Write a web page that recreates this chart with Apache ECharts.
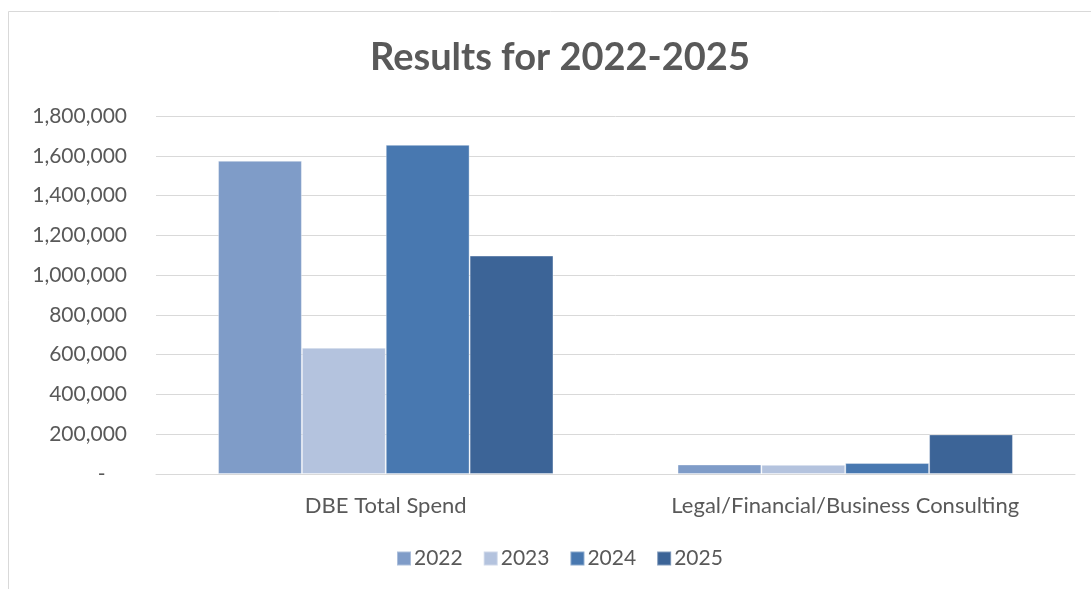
<!DOCTYPE html>
<html>
<head>
<meta charset="utf-8">
<script src="https://cdn.jsdelivr.net/npm/echarts@6/dist/echarts.min.js"></script>
<style>
html,body{margin:0;padding:0;background:#fff;}
#chart{width:1091px;height:589px;}
</style>
</head>
<body>
<div id="chart"></div>
<script>
const categories = ['DBE Total Spend', 'Legal/Financial/Business Consulting'];
const seriesNames = ['2022', '2023', '2024', '2025'];
const values2022 = [1575000, 48000];
const values2023 = [635000, 46000];
const values2024 = [1655000, 55000];
const values2025 = [1098000, 199000];
const yTicks = { min: 0, max: 1800000, interval: 200000 };
const colors = ['#7f9cc8', '#b4c3de', '#4878b0', '#3c6497'];

const seriesValues = [values2022, values2023, values2024, values2025];
const FONT = 'Lato, "Open Sans", sans-serif';
const TXT = '#595959';

const chart = echarts.init(document.getElementById('chart'), null, { renderer: 'canvas' });
chart.setOption({
  animation: false,
  backgroundColor: '#ffffff',
  graphic: [{
    type: 'rect',
    shape: { x: 8.5, y: 11.5, width: 1200, height: 700 },
    style: { fill: 'none', stroke: '#d9d9d9', lineWidth: 1 },
    silent: true, z: -1
  }],
  title: {
    text: 'Results for 2022-2025',
    left: 365,
    top: 34,
    textStyle: { fontFamily: FONT, fontSize: 38, fontWeight: 'bold', color: TXT }
  },
  legend: {
    bottom: 15,
    left: 391,
    itemWidth: 14,
    itemHeight: 14,
    itemGap: 20,
    icon: 'rect',
    textStyle: { fontFamily: FONT, fontSize: 21, color: TXT, padding: [0, 0, 0, -2] },
    data: seriesNames
  },
  grid: { left: 156, right: 16, top: 116, bottom: 115, containLabel: false },
  xAxis: {
    type: 'category',
    data: categories,
    axisLine: { show: true, lineStyle: { color: '#d9d9d9', width: 1 } },
    axisTick: { show: false },
    axisLabel: { fontFamily: FONT, fontSize: 22, color: TXT, margin: 21 }
  },
  yAxis: {
    type: 'value',
    min: yTicks.min,
    max: yTicks.max,
    interval: yTicks.interval,
    axisLine: { show: false },
    axisTick: { show: false },
    splitLine: { lineStyle: { color: '#d9d9d9', width: 1 } },
    axisLabel: {
      fontFamily: FONT, fontSize: 21, color: TXT, margin: 29,
      formatter: function (v) { return v === 0 ? '-    ' : v.toLocaleString('en-US'); }
    }
  },
  series: seriesNames.map((name, i) => ({
    name: name,
    type: 'bar',
    data: seriesValues[i],
    barGap: '0%',
    barCategoryGap: '27%',
    itemStyle: { color: colors[i], borderColor: 'rgba(255,255,255,0.35)', borderWidth: 1 }
  }))
});
</script>
</body>
</html>
